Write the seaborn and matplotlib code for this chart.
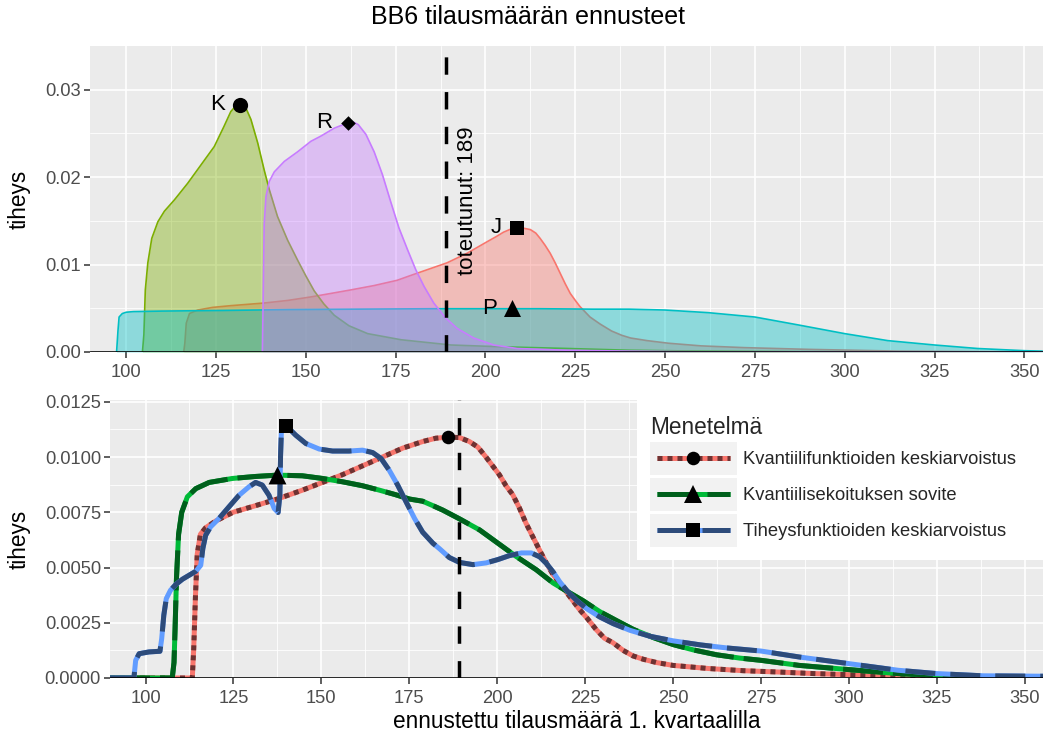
import numpy as np
import pandas as pd
import matplotlib
matplotlib.use("Agg")
import matplotlib.pyplot as plt
import seaborn as sns
from matplotlib.patches import Rectangle
from matplotlib.lines import Line2D
from matplotlib.legend_handler import HandlerBase
from matplotlib.ticker import FixedLocator

# ---------------- data ----------------
# top panel: densities of the individual forecasts
J_x = [116.0, 116.3, 116.7, 117.6, 119.9, 124.0, 129.1, 138.4, 145.0, 151.4, 157.0, 162.5, 169.0,
       175.4, 179.5, 183.7, 189.3, 194.9, 200.4, 203.0, 205.0, 207.0, 208.8, 210.7, 212.5, 214.0,
       215.2, 216.6, 218.0, 219.4, 220.8, 222.2, 223.6, 225.0, 226.3, 227.7, 229.1, 231.9, 235.1,
       238.0, 240.4, 245.0, 251.0, 260.0, 272.0, 290.0, 315.0, 340.0, 355.0]
J_y = [0.0, 0.0010, 0.0033, 0.0044, 0.0048, 0.0051, 0.0053, 0.0056, 0.0059, 0.0063, 0.0067, 0.0071,
       0.0076, 0.0082, 0.0088, 0.0094, 0.0102, 0.0113, 0.0126, 0.0132, 0.0137, 0.01405, 0.0142,
       0.01415, 0.0140, 0.0136, 0.0130, 0.0122, 0.0113, 0.0102, 0.0090, 0.0078, 0.0067, 0.0059,
       0.0052, 0.0046, 0.0040, 0.0032, 0.0024, 0.0019, 0.0016, 0.0013, 0.0010, 0.0007, 0.0005,
       0.0003, 0.0001, 0.00003, 0.00001]

K_x = [104.5, 104.9, 105.3, 106.0, 107.1, 108.8, 110.6, 113.4, 117.1, 120.8, 124.5, 127.2, 129.1,
       130.8, 131.9, 133.3, 134.7, 136.6, 138.4, 139.8, 142.1, 144.9, 147.7, 150.0, 152.3, 155.0,
       157.9, 162.0, 167.2, 176.5, 190.4, 204.0, 223.0, 240.0, 260.0, 290.0, 355.0]
K_y = [0.0, 0.0020, 0.0071, 0.0102, 0.0130, 0.0149, 0.0161, 0.0174, 0.0193, 0.0214, 0.0235, 0.0258,
       0.0275, 0.0283, 0.0284, 0.0279, 0.0266, 0.0239, 0.0208, 0.0186, 0.0155, 0.0128, 0.0105,
       0.0087, 0.0070, 0.0055, 0.0042, 0.0030, 0.0021, 0.0014, 0.0008, 0.0006, 0.0004, 0.0002,
       0.0001, 0.00003, 0.0]

P_x = [97.3, 97.7, 98.0, 98.9, 100.0, 102.0, 110.0, 127.0, 145.0, 164.0, 185.0, 201.0, 215.0,
       230.0, 240.0, 250.0, 262.0, 275.0, 287.0, 300.0, 312.0, 325.0, 337.0, 350.0, 355.0]
P_y = [0.0, 0.0025, 0.0040, 0.0044, 0.00455, 0.00462, 0.00468, 0.00475, 0.00485, 0.0049, 0.00495,
       0.00495, 0.00495, 0.0049, 0.0049, 0.0048, 0.0045, 0.0040, 0.0031, 0.0021, 0.0013, 0.0008,
       0.0004, 0.00015, 0.0001]

R_x = [137.9, 138.1, 138.4, 138.9, 139.8, 141.2, 144.0, 147.7, 151.4, 154.2, 157.9, 161.6, 163.2,
       164.6, 166.7, 169.0, 171.3, 173.6, 175.9, 178.3, 180.6, 182.9, 185.6, 188.9, 192.1, 196.7,
       202.3, 208.8, 222.7, 240.0, 260.0, 355.0]
R_y = [0.0, 0.0060, 0.0147, 0.0178, 0.0195, 0.0206, 0.0218, 0.0229, 0.0241, 0.0247, 0.0256, 0.0262,
       0.0263, 0.0260, 0.0249, 0.0229, 0.0203, 0.0172, 0.0142, 0.0117, 0.0094, 0.0075, 0.0056,
       0.0039, 0.0027, 0.0016, 0.0008, 0.0004, 0.0002, 0.0001, 0.00003, 0.0]

top_names = ["J", "K", "P", "R"]
top_colors = ["#F8766D", "#7CAE00", "#00BFC4", "#C77CFF"]
top_peaks_x = [208.8, 131.7, 207.4, 161.6]
top_peaks_y = [0.0142, 0.0283, 0.0050, 0.0262]
top_markers = ["s", "o", "^", "D"]
top_marker_sizes = [110, 120, 150, 55]
realised = 189

# bottom panel: combined forecast densities
Q_x = [89.9, 113.3, 113.7, 114.2, 114.7, 115.6, 117.1, 119.9, 124.9, 131.3, 137.5, 144.6, 150.3,
       156.0, 161.7, 167.4, 173.1, 178.8, 182.5, 185.9, 189.3, 192.1, 194.5, 196.8, 198.7, 200.6,
       202.5, 204.4, 206.3, 208.2, 210.1, 212.0, 214.0, 215.8, 217.7, 219.6, 221.5, 223.4, 225.6,
       228.1, 230.5, 232.9, 235.8, 238.6, 241.5, 245.3, 250.0, 260.0, 270.0, 280.0, 290.0, 300.0,
       314.0, 325.0, 340.0, 355.3]
Q_y = [0.0, 0.0, 0.0013, 0.0037, 0.0056, 0.0065, 0.0068, 0.0071, 0.0075, 0.0078, 0.0081, 0.0085,
       0.00885, 0.0092, 0.0096, 0.0100, 0.0104, 0.0107, 0.01085, 0.0109, 0.01088, 0.0107, 0.01045,
       0.0100, 0.0096, 0.0092, 0.0087, 0.0083, 0.0077, 0.0070, 0.0064, 0.0058, 0.0052, 0.0047,
       0.0043, 0.0039, 0.0035, 0.0031, 0.0027, 0.0022, 0.0018, 0.0016, 0.00125, 0.0010, 0.00085,
       0.0007, 0.00057, 0.00043, 0.00033, 0.00027, 0.0002, 0.00015, 0.0001, 0.00006, 0.00004,
       0.00003]

M_x = [89.9, 107.6, 108.1, 108.4, 108.8, 109.4, 110.3, 111.9, 114.3, 118.1, 124.7, 131.3, 137.5,
       144.6, 150.3, 156.0, 161.7, 166.5, 171.0, 175.0, 178.8, 181.7, 184.5, 189.3, 195.0, 200.2,
       205.4, 211.1, 215.9, 220.1, 224.4, 229.2, 233.9, 238.7, 244.4, 250.1, 255.8, 262.4, 269.0,
       275.0, 285.9, 300.0, 314.0, 325.0, 340.0, 355.3]
M_y = [0.0, 0.0, 0.0007, 0.0022, 0.0045, 0.0065, 0.0075, 0.0082, 0.00857, 0.00885, 0.00903,
       0.00912, 0.00918, 0.00915, 0.00903, 0.00888, 0.0087, 0.0085, 0.0083, 0.0081, 0.0080,
       0.0078, 0.0076, 0.0072, 0.0067, 0.0061, 0.0055, 0.0049, 0.0043, 0.0039, 0.0035, 0.0030,
       0.0026, 0.0022, 0.00183, 0.00151, 0.00127, 0.00105, 0.0009, 0.0008, 0.00057, 0.00038,
       0.0002, 0.00012, 0.00006, 0.00004]

T_x = [89.9, 96.7, 97.2, 98.2, 101.0, 104.1, 104.6, 105.2, 105.9, 107.1, 108.6, 110.5, 112.4, 114.3,
       115.7, 116.3, 117.1, 118.5, 120.9, 123.7, 126.6, 129.4, 131.3, 133.2, 135.1, 136.6, 137.7,
       138.2, 138.4, 138.7, 140.8, 142.7, 145.6, 149.4, 153.2, 157.9, 161.7, 164.6, 167.0, 169.3,
       171.7, 174.1, 176.5, 178.8, 181.7, 183.6, 186.4, 189.3, 193.1, 196.9, 200.2, 203.5, 206.9,
       209.7, 212.1, 214.0, 215.9, 217.8, 220.1, 222.5, 225.4, 229.2, 233.0, 237.7, 243.4, 250.1,
       257.7, 265.3, 275.0, 285.9, 300.0, 314.0, 325.0, 338.0, 355.3]
T_y = [0.0, 0.0, 0.0008, 0.0011, 0.00118, 0.00121, 0.00178, 0.00284, 0.00359, 0.00397, 0.00423,
       0.00447, 0.00465, 0.00483, 0.0051, 0.00586, 0.00646, 0.00684, 0.00722, 0.00774, 0.00827,
       0.00865, 0.00885, 0.00873, 0.00827, 0.00767, 0.00749, 0.00827, 0.01008, 0.01144, 0.01129,
       0.01099, 0.01061, 0.01036, 0.01027, 0.01027, 0.01031, 0.0102, 0.00993, 0.0094, 0.00873,
       0.00797, 0.00722, 0.0066, 0.0061, 0.00585, 0.00545, 0.00523, 0.00513, 0.00521, 0.00536,
       0.00554, 0.00566, 0.00566, 0.00548, 0.00518, 0.0048, 0.00435, 0.0039, 0.00352, 0.00314,
       0.00276, 0.00246, 0.00216, 0.00189, 0.00168, 0.0015, 0.00136, 0.00122, 0.00095, 0.00065,
       0.00035, 0.0002, 0.0001, 0.00008]

method_names = ["Kvantiilifunktioiden keskiarvoistus", "Kvantiilisekoituksen sovite",
                "Tiheysfunktioiden keskiarvoistus"]
method_peak_x = [185.9, 137.5, 139.9]
method_peak_y = [0.01091, 0.0092, 0.01141]

x_ticks = [100, 125, 150, 175, 200, 225, 250, 275, 300, 325, 350]
top_yticks = [0.0, 0.01, 0.02, 0.03]
top_ylabels = ["0.00", "0.01", "0.02", "0.03"]
bot_yticks = [0.0, 0.0025, 0.005, 0.0075, 0.01, 0.0125]
bot_ylabels = ["0.0000", "0.0025", "0.0050", "0.0075", "0.0100", "0.0125"]

# ---------------- styling ----------------
sns.set_theme(style="darkgrid")
plt.rcParams["font.family"] = ["Liberation Sans", "DejaVu Sans"]

W, H = 1046, 736
fig = plt.figure(figsize=(W / 100, H / 100), dpi=100)


def px_axes(l, t, r, b):
    return fig.add_axes([l / W, 1 - b / H, (r - l) / W, (b - t) / H])


def style_axes(ax, yticks, ylabels, ylim, yminor):
    ax.set_facecolor("#EBEBEB")
    for s in ax.spines.values():
        s.set_visible(False)
    ax.set_xlim(89.9, 355.2)
    ax.set_ylim(*ylim)
    ax.set_xticks(x_ticks)
    ax.set_xticklabels([str(v) for v in x_ticks])
    ax.set_yticks(yticks)
    ax.set_yticklabels(ylabels)
    ax.xaxis.set_minor_locator(FixedLocator([v + 12.5 for v in x_ticks[:-1]]))
    ax.yaxis.set_minor_locator(FixedLocator(yminor))
    ax.grid(which="major", color="white", lw=1.2)
    ax.grid(which="minor", color="white", lw=0.6)
    ax.set_axisbelow(True)
    ax.tick_params(which="major", bottom=True, left=True, length=4, width=1.1,
                   color="#333333", labelcolor="#4D4D4D", labelsize=13.2, pad=2.5)
    ax.tick_params(axis="x", which="major", pad=4.5)
    ax.tick_params(which="minor", bottom=False, left=False, length=0)
    ax.axhline(0, color="black", lw=1.9, zorder=20)


# ---------------- top panel ----------------
ax1 = px_axes(90, 46, 1043, 352)
top_x = [J_x, K_x, P_x, R_x]
top_y = [J_y, K_y, P_y, R_y]
for i, (name, xs, ys, col) in enumerate(zip(top_names, top_x, top_y, top_colors)):
    z = 2 + i
    ax1.fill_between(xs, 0, ys, color=col, alpha=0.4, lw=0, zorder=z)
    sns.lineplot(x=xs, y=ys, color=col, lw=1.2, ax=ax1, zorder=z + 0.5,
                 solid_joinstyle="round")

for name, px_, py_, mk, ms in zip(top_names, top_peaks_x, top_peaks_y, top_markers, top_marker_sizes):
    ax1.scatter([px_], [py_], marker=mk, s=ms, color="black", zorder=30, linewidths=0)
    ax1.annotate(name, xy=(px_, py_), xytext=(-11, 0), textcoords="offset points",
                 ha="right", va="center", fontsize=16, color="black", zorder=30)

ax1.axvline(realised, color="black", lw=2.5, linestyle=(0, (5, 5)), zorder=25)
ax1.text(195, 0.0173, f"toteutunut: {realised}", rotation=90, ha="center", va="center",
         fontsize=16, color="black", zorder=30)
style_axes(ax1, top_yticks, top_ylabels, (0, 0.0350), [0.005, 0.015, 0.025])
ax1.set_xlabel("")
ax1.set_ylabel("tiheys", fontsize=16.3, color="black", va="center")
ax1.yaxis.set_label_coords(-0.0745, 0.5)

# ---------------- bottom panel ----------------
ax2 = px_axes(110, 400, 1043, 678)
LW = 3.6
line_specs = [
    (Q_x, Q_y, "#F8766D", "#6E3232", (1, 1), "o", 95),
    (M_x, M_y, "#00BA38", "#00601C", (8, 2), "^", 165),
    (T_x, T_y, "#619CFF", "#2D4B7A", (6, 3), "s", 105),
]
for i, (xs, ys, base, over, dash, mk, ms) in enumerate(line_specs):
    z = 5 + 2 * i
    sns.lineplot(x=xs, y=ys, color=base, lw=LW, ax=ax2, zorder=z,
                 solid_capstyle="butt", solid_joinstyle="round")
    sns.lineplot(x=xs, y=ys, color=over, lw=LW, ax=ax2, zorder=z + 0.5,
                 linestyle=(0, dash), dash_capstyle="butt", dash_joinstyle="round")

for i, (px_, py_) in enumerate(zip(method_peak_x, method_peak_y)):
    _, _, _, _, _, mk, ms = line_specs[i]
    ax2.scatter([px_], [py_], marker=mk, s=ms, color="black", zorder=30, linewidths=0)

ax2.axvline(realised, color="black", lw=2.5, linestyle=(0, (5, 5)), zorder=25)
style_axes(ax2, bot_yticks, bot_ylabels, (0, 0.01258),
           [0.00125, 0.00375, 0.00625, 0.00875, 0.01125])
ax2.set_xlabel("ennustettu tilausmäärä 1. kvartaalilla", fontsize=16.3, color="black", va="center")
ax2.xaxis.set_label_coords(0.5, -0.155)
ax2.set_ylabel("tiheys", fontsize=16.3, color="black", va="center")
ax2.yaxis.set_label_coords(-0.0975, 0.5)


# ---------------- legend ----------------
class Key:
    def __init__(self, base, over, dash, marker, ms):
        self.base, self.over, self.dash, self.marker, self.ms = base, over, dash, marker, ms


class KeyHandler(HandlerBase):
    def create_artists(self, legend, h, xdescent, ydescent, width, height, fontsize, trans):
        rect = Rectangle((-xdescent, -ydescent), width, height, facecolor="#F2F2F2",
                         edgecolor="none", transform=trans)
        y = -ydescent + height / 2
        x0 = -xdescent + 0.085 * width
        x1 = -xdescent + 0.915 * width
        l1 = Line2D([x0, x1], [y, y], color=h.base, lw=LW, solid_capstyle="butt", transform=trans)
        l2 = Line2D([x0, x1], [y, y], color=h.over, lw=LW, linestyle=(0, h.dash),
                    dash_capstyle="butt", transform=trans)
        m = Line2D([(x0 + x1) / 2], [y], marker=h.marker, markersize=np.sqrt(h.ms),
                   color="black", markeredgewidth=0, linestyle="none", transform=trans)
        return [rect, l1, l2, m]


# white legend background box (as in the reference, wider than the entries)
bg = Rectangle((637 / W, 1 - 560 / H), (1043 - 637) / W, (560 - 397) / H,
               transform=fig.transFigure, facecolor="white", edgecolor="none",
               zorder=39, clip_on=False)
ax2.add_patch(bg)

keys = [Key(b, o, d, mk, ms) for (_, _, b, o, d, mk, ms) in line_specs]
leg = ax2.legend(keys, method_names, handler_map={Key: KeyHandler()},
                 loc="upper left", bbox_to_anchor=(637 / W, 1 - 403 / H),
                 bbox_transform=fig.transFigure, borderaxespad=0,
                 title="Menetelmä", title_fontsize=16.3, fontsize=13.2,
                 frameon=False, handlelength=4.75, handleheight=2.39,
                 labelspacing=0.16, handletextpad=0.33, borderpad=0.7,
                 alignment="left")
leg.set_zorder(40)

fig.text(528 / W, 1 - 17 / H, "BB6 tilausmäärän ennusteet", ha="center", va="center",
         fontsize=18, color="black")

fig.savefig("out.png", dpi=100)
